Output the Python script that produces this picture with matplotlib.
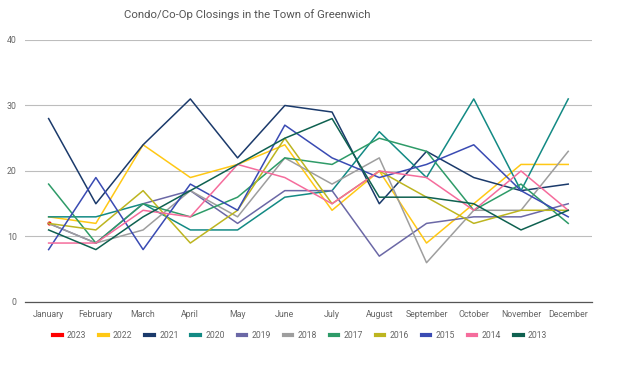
import matplotlib
matplotlib.use("Agg")
import matplotlib.pyplot as plt
import numpy as np

months = ["January", "February", "March", "April", "May", "June", "July",
          "August", "September", "October", "November", "December"]

y2023 = [12] + [None] * 11
y2022 = [13, 12, 24, 19, 21, 24, 14, 20, 9, 15, 21, 21]
y2021 = [28, 15, 24, 31, 22, 30, 29, 15, 23, 19, 17, 18]
y2020 = [13, 13, 15, 11, 11, 16, 17, 26, 19, 31, 17, 31]
y2019 = [12, 9, 15, 17, 12, 17, 17, 7, 12, 13, 13, 15]
y2018 = [12, 9, 11, 17, 13, 22, 18, 22, 6, 14, 14, 23]
y2017 = [18, 9, 15, 13, 16, 22, 21, 25, 23, 14, 18, 12]
y2016 = [12, 11, 17, 9, 14, 25, 15, 20, 16, 12, 14, 14]
y2015 = [8, 19, 8, 18, 14, 27, 22, 19, 21, 24, 17, 13]
y2014 = [9, 9, 14, 13, 21, 19, 15, 20, 19, 14, 20, 14]
y2013 = [11, 8, 13, 17, 21, 25, 28, 16, 16, 15, 11, 14]

series = [
    ("2023", y2023, "#ff0000"),
    ("2022", y2022, "#ffc815"),
    ("2021", y2021, "#1b3a6b"),
    ("2020", y2020, "#138a84"),
    ("2019", y2019, "#6b68a6"),
    ("2018", y2018, "#9e9e9e"),
    ("2017", y2017, "#2e9b68"),
    ("2016", y2016, "#bdb520"),
    ("2015", y2015, "#3a4bb3"),
    ("2014", y2014, "#f56c9c"),
    ("2013", y2013, "#0f6150"),
]

plt.rcParams["font.family"] = ["Roboto", "DejaVu Sans"]

fig = plt.figure(figsize=(6.33, 3.92), dpi=100)
ax = fig.add_axes([0.0395, 0.2296, 0.8955, 0.6684])

x = np.arange(len(months))
for name, vals, col in series:
    v = np.array([np.nan if a is None else a for a in vals], dtype=float)
    if np.isnan(v[1:]).all():
        ax.plot(x, v, color=col, lw=1.1, marker="o", markersize=2, label=name)
    else:
        ax.plot(x, v, color=col, lw=1.1, label=name)

ax.set_xlim(-0.5, 11.5)
ax.set_ylim(0, 40)
ax.set_yticks([0, 10, 20, 30, 40])
ax.set_xticks(x)
ax.set_xticklabels(months)
ax.grid(axis="y", color="#bdbdbd", lw=0.8)
ax.set_axisbelow(True)
for s in ["top", "right", "left"]:
    ax.spines[s].set_visible(False)
ax.spines["bottom"].set_color("#555555")
ax.spines["bottom"].set_linewidth(0.9)
ax.tick_params(axis="both", length=0, labelsize=6.3, labelcolor="#666666")
ax.tick_params(axis="x", pad=6)
ax.tick_params(axis="y", pad=6)

fig.text(0.39, 0.962, "Condo/Co-Op Closings in the Town of Greenwich",
         ha="center", va="center", fontsize=8.2, color="#555555")

leg = fig.legend(loc="center", bbox_to_anchor=(0.474, 0.143), ncol=11,
                 frameon=False, fontsize=6.2, handlelength=1.0, handletextpad=0.6,
                 columnspacing=1.5, labelcolor="#666666")
for h in leg.get_lines():
    h.set_linewidth(3)
    h.set_marker("")

fig.savefig("out.png", dpi=100)
